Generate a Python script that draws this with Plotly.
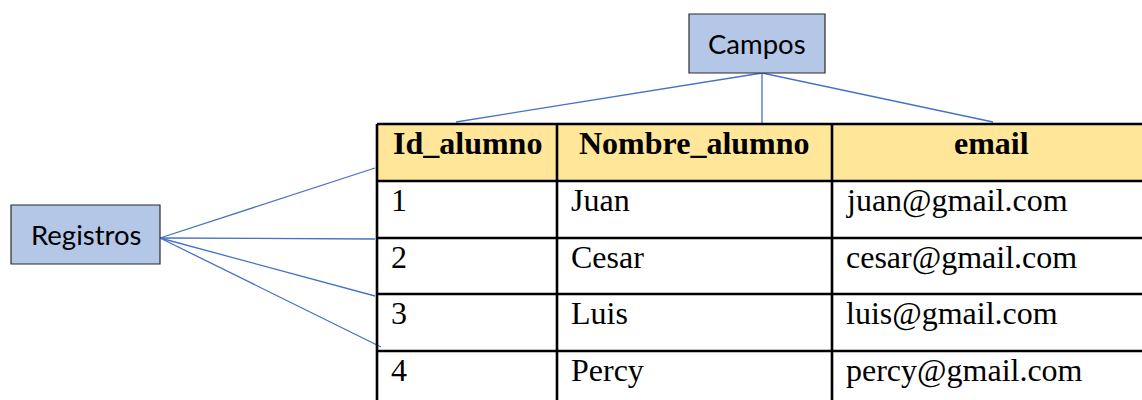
import plotly.graph_objects as go

# ---- data ----
columns = ["Id_alumno", "Nombre_alumno", "email"]
ids = ["1", "2", "3", "4"]
nombres = ["Juan", "Cesar", "Luis", "Percy"]
emails = ["juan@gmail.com", "cesar@gmail.com", "luis@gmail.com", "percy@gmail.com"]
label_campos = "Campos"
label_registros = "Registros"

# ---- layout geometry (page pixels) ----
W, H = 1142, 400
col_edges = [377, 557, 832, 1150]
row_edges = [124, 181, 238, 294, 351, 408]
campos_box = (689, 14, 825, 73)
registros_box = (11, 205, 160, 264)
campos_origin = (762, 73)
registros_origin = (160, 238)
campos_targets = [(456, 122), (762, 124), (993, 122)]
registros_targets = [(375, 168), (375, 239), (375, 296), (381, 347)]

HEADER_FILL = "#FFE699"
BOX_FILL = "#B4C7E7"
LINE_BLUE = "#4472C4"
SERIF = "Liberation Serif"
SANS = "Lato"

fig = go.Figure()
shapes = []
annotations = []

# connector lines
for (ox, oy), targets in [(campos_origin, campos_targets), (registros_origin, registros_targets)]:
    for tx, ty in targets:
        shapes.append(dict(type="line", x0=ox, y0=oy, x1=tx, y1=ty,
                           line=dict(color=LINE_BLUE, width=1.3), layer="below"))

# header fill
shapes.append(dict(type="rect", x0=col_edges[0], x1=col_edges[-1],
                   y0=row_edges[0], y1=row_edges[1],
                   fillcolor=HEADER_FILL, line=dict(width=0), layer="below"))

# grid lines
for x in col_edges:
    shapes.append(dict(type="line", x0=x, x1=x, y0=row_edges[0], y1=row_edges[-1],
                       line=dict(color="black", width=2.6)))
for y in row_edges:
    shapes.append(dict(type="line", x0=col_edges[0], x1=col_edges[-1], y0=y, y1=y,
                       line=dict(color="black", width=2.6)))

# label boxes
for (x0, y0, x1, y1), txt in [(campos_box, label_campos), (registros_box, label_registros)]:
    shapes.append(dict(type="rect", x0=x0, y0=y0, x1=x1, y1=y1,
                       fillcolor=BOX_FILL, line=dict(color="#2b2b2b", width=1.2)))
    annotations.append(dict(x=(x0 + x1) / 2, y=(y0 + y1) / 2, text=txt,
                            showarrow=False, xanchor="center", yanchor="middle",
                            font=dict(family=SANS, size=27.5, color="black")))

# header text
for i, name in enumerate(columns):
    annotations.append(dict(x=(col_edges[i] + col_edges[i + 1]) / 2,
                            y=row_edges[0] + 19, text="<b>" + name + "</b>",
                            showarrow=False, xanchor="center", yanchor="middle",
                            font=dict(family=SERIF, size=32, color="black")))

# body text
for r, row in enumerate(zip(ids, nombres, emails)):
    for c, val in enumerate(row):
        annotations.append(dict(x=col_edges[c] + 12, y=row_edges[r + 1] + 19,
                                text=val, showarrow=False,
                                xanchor="left", yanchor="middle",
                                font=dict(family=SERIF, size=32, color="black")))

fig.update_layout(
    width=W, height=H,
    margin=dict(l=0, r=0, t=0, b=0),
    paper_bgcolor="white", plot_bgcolor="white",
    xaxis=dict(range=[0, W], visible=False, fixedrange=True),
    yaxis=dict(range=[H, 0], visible=False, fixedrange=True),
    shapes=shapes, annotations=annotations,
    showlegend=False,
)

fig.write_html(
    "out.html",
    config={"displayModeBar": False},
    post_script="document.body.style.margin='0';document.body.style.overflow='hidden';",
)
